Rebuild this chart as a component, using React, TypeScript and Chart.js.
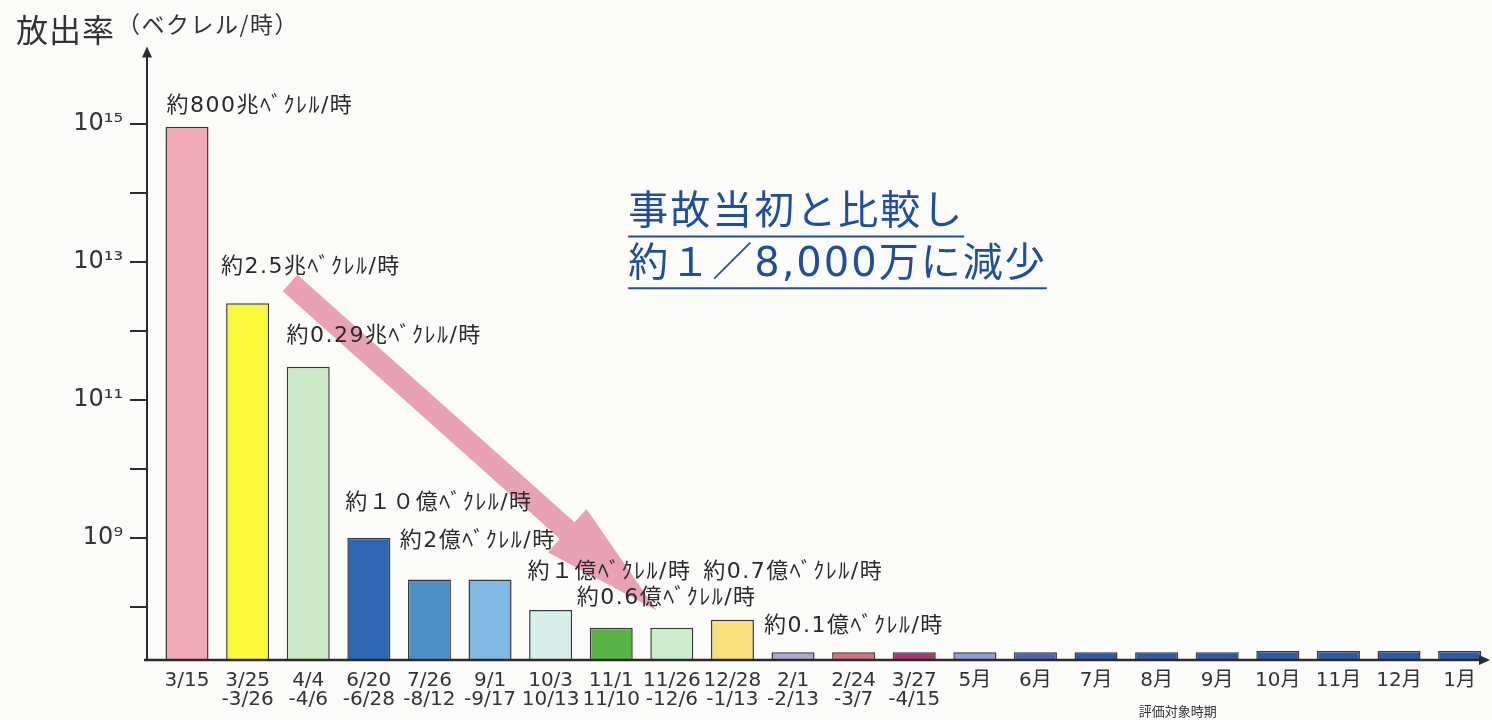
import { useEffect, useRef } from "react";
import { Chart, registerables } from "chart.js";

Chart.register(...registerables);

// ---- data ----
const periods: string[][] = [
  ["3/15"],
  ["3/25", "-3/26"],
  ["4/4", "-4/6"],
  ["6/20", "-6/28"],
  ["7/26", "-8/12"],
  ["9/1", "-9/17"],
  ["10/3", "10/13"],
  ["11/1", "11/10"],
  ["11/26", "-12/6"],
  ["12/28", "-1/13"],
  ["2/1", "-2/13"],
  ["2/24", "-3/7"],
  ["3/27", "-4/15"],
  ["5月"],
  ["6月"],
  ["7月"],
  ["8月"],
  ["9月"],
  ["10月"],
  ["11月"],
  ["12月"],
  ["1月"],
];

const releaseRates: number[] = [
  9e14, 2.5e12, 3e11, 1e9, 2.5e8, 2.5e8, 9e7, 5e7, 5e7, 6.5e7, 2.2e7, 2.2e7,
  2.2e7, 2.2e7, 2.2e7, 2.2e7, 2.2e7, 2.2e7, 2.3e7, 2.3e7, 2.3e7, 2.3e7,
];

const barColors: string[] = [
  "#f0aab5", "#f9f83a", "#cbe9c4", "#2e66b2", "#4c90ca", "#80b9e3", "#d8f0ec",
  "#5cb547", "#cbedc9", "#f5e07c", "#b2a8d2", "#d2717f", "#a5396e", "#8e9fd0",
  "#5064b0", "#2f5ba5", "#2f5ba5", "#2f5ba5", "#2f5ba5", "#2f5ba5", "#2f5ba5",
  "#2f5ba5",
];

const yTickValues: number[] = [1e8, 1e9, 1e10, 1e11, 1e12, 1e13, 1e14, 1e15];
const labeledExponents: number[] = [9, 11, 13, 15];
const yMin = 1.734e7;
const yMax = 1e16;
const xMin = -0.644;
const xMax = 21.501;

const valueLabelTexts: string[] = [
  "約800兆ﾍﾞｸﾚﾙ/時",
  "約2.5兆ﾍﾞｸﾚﾙ/時",
  "約0.29兆ﾍﾞｸﾚﾙ/時",
  "約１０億ﾍﾞｸﾚﾙ/時",
  "約2億ﾍﾞｸﾚﾙ/時",
  "約１億ﾍﾞｸﾚﾙ/時",
  "約0.6億ﾍﾞｸﾚﾙ/時",
  "約0.7億ﾍﾞｸﾚﾙ/時",
  "約0.1億ﾍﾞｸﾚﾙ/時",
];
// anchor of each label: category position (fractional) and level on the log axis
const valueLabelAt: number[] = [-0.34, 0.56, 1.64, 2.61, 3.51, 5.62, 6.43, 8.52, 9.52];
const valueLabelLevel: number[] = [1.8e15, 8.2e12, 8.3e11, 3.2e9, 8.9e8, 3.2e8, 1.35e8, 3.2e8, 5.2e7];

const trendFrom = { at: 1.7, level: 4.9e12 };
const trendTo = { at: 7.75, level: 8.9e7 };

const noteLines: string[] = ["事故当初と比較し", "約１／8,000万に減少"];
const noteAt = 7.28;
const noteLevels: number[] = [5e13, 8.9e12];

const yTitleMain = "放出率";
const yTitleUnit = "（ベクレル/時）";
const xTitle = "評価対象時期";
const xTitleAt = 16.35;

const SUP: Record<string, string> = {
  "0": "⁰", "1": "¹", "2": "²", "3": "³", "4": "⁴",
  "5": "⁵", "6": "⁶", "7": "⁷", "8": "⁸", "9": "⁹",
};

const CJK = "'Noto Sans CJK JP'";
const LAT = "'DejaVu Sans', 'Noto Sans CJK JP'";

const overlay = {
  id: "overlay",
  beforeDraw(chart: any) {
    const { ctx, width, height } = chart;
    ctx.save();
    ctx.fillStyle = "#fbfbf9";
    ctx.fillRect(0, 0, width, height);
    ctx.restore();
  },
  afterDatasetsDraw(chart: any) {
    const { ctx } = chart;
    const xs = chart.scales.x;
    const ys = chart.scales.y;
    const p0 = { x: xs.getPixelForValue(trendFrom.at), y: ys.getPixelForValue(trendFrom.level) };
    const p1 = { x: xs.getPixelForValue(trendTo.at), y: ys.getPixelForValue(trendTo.level) };
    const dx = p1.x - p0.x;
    const dy = p1.y - p0.y;
    const len = Math.hypot(dx, dy);
    const ux = dx / len, uy = dy / len;
    const nx = -uy, ny = ux;
    const headLen = 120, headHalf = 29, shaftHalf = 11;
    const bx = p1.x - ux * headLen, by = p1.y - uy * headLen;
    ctx.save();
    ctx.fillStyle = "#e9a1b6";
    ctx.beginPath();
    ctx.moveTo(p0.x + nx * shaftHalf, p0.y + ny * shaftHalf);
    ctx.lineTo(bx + nx * shaftHalf, by + ny * shaftHalf);
    ctx.lineTo(bx + nx * headHalf, by + ny * headHalf);
    ctx.lineTo(p1.x, p1.y);
    ctx.lineTo(bx - nx * headHalf, by - ny * headHalf);
    ctx.lineTo(bx - nx * shaftHalf, by - ny * shaftHalf);
    ctx.lineTo(p0.x - nx * shaftHalf, p0.y - ny * shaftHalf);
    ctx.closePath();
    ctx.fill();
    ctx.restore();
  },
  afterDraw(chart: any) {
    const { ctx, chartArea } = chart;
    const xs = chart.scales.x;
    const ys = chart.scales.y;
    const axisColor = "#2b2b2b";
    ctx.save();

    // y axis with arrow
    const ax = chartArea.left - 1;
    ctx.strokeStyle = axisColor;
    ctx.fillStyle = axisColor;
    ctx.lineWidth = 2;
    ctx.beginPath();
    ctx.moveTo(ax, chartArea.bottom + 1);
    ctx.lineTo(ax, chartArea.top + 2);
    ctx.stroke();
    ctx.beginPath();
    ctx.moveTo(ax, chartArea.top - 8);
    ctx.lineTo(ax - 5, chartArea.top + 3);
    ctx.lineTo(ax + 5, chartArea.top + 3);
    ctx.closePath();
    ctx.fill();

    // x axis with arrow
    const ay = chartArea.bottom + 0.5;
    ctx.lineWidth = 2.5;
    ctx.beginPath();
    ctx.moveTo(ax - 3, ay);
    ctx.lineTo(chartArea.right - 8, ay);
    ctx.stroke();
    ctx.beginPath();
    ctx.moveTo(chartArea.right, ay);
    ctx.lineTo(chartArea.right - 11, ay - 5);
    ctx.lineTo(chartArea.right - 11, ay + 5);
    ctx.closePath();
    ctx.fill();

    // value labels
    ctx.fillStyle = "#2a2a2a";
    ctx.font = `22px ${LAT}`;
    ctx.textBaseline = "middle";
    ctx.textAlign = "left";
    (ctx as any).letterSpacing = "1.5px";
    valueLabelTexts.forEach((t, i) => {
      ctx.fillText(t, xs.getPixelForValue(valueLabelAt[i]), ys.getPixelForValue(valueLabelLevel[i]));
    });

    // note
    ctx.fillStyle = "#1f4f9c";
    ctx.strokeStyle = "#1f4f9c";
    ctx.font = `40px ${LAT}`;
    (ctx as any).letterSpacing = "2px";
    noteLines.forEach((t, i) => {
      const x = xs.getPixelForValue(noteAt);
      const y = ys.getPixelForValue(noteLevels[i]);
      ctx.fillText(t, x, y);
      const w = ctx.measureText(t).width;
      ctx.lineWidth = 2;
      ctx.beginPath();
      ctx.moveTo(x, y + 23);
      ctx.lineTo(x + w, y + 23);
      ctx.stroke();
    });

    // titles
    ctx.fillStyle = "#333333";
    (ctx as any).letterSpacing = "1px";
    ctx.font = `32px ${CJK}`;
    ctx.fillText(yTitleMain, 16, 30);
    (ctx as any).letterSpacing = "1.5px";
    ctx.font = `23px ${CJK}`;
    ctx.fillText(yTitleUnit, 117, 24);
    (ctx as any).letterSpacing = "0px";
    ctx.font = `13px ${CJK}`;
    ctx.textAlign = "center";
    ctx.fillText(xTitle, xs.getPixelForValue(xTitleAt), chartArea.bottom + 52);
    ctx.restore();
  },
};

export default function App() {
  const ref = useRef<HTMLCanvasElement>(null);
  useEffect(() => {
    const points = releaseRates.map((v, i) => ({ x: i, y: v }));
    const chart = new Chart(ref.current as HTMLCanvasElement, {
      type: "bar",
      data: {
        datasets: [
          {
            data: points,
            backgroundColor: barColors,
            borderColor: "#3a3a3a",
            borderWidth: 1.5,
            barPercentage: 0.71,
            categoryPercentage: 1,
          },
        ],
      },
      options: {
        responsive: false,
        animation: false,
        layout: { padding: { top: 54.5, right: 2, bottom: 0, left: 0 } },
        plugins: { legend: { display: false }, tooltip: { enabled: false } },
        scales: {
          x: {
            type: "linear",
            min: xMin,
            max: xMax,
            offset: false,
            afterFit: (s: any) => {
              s.height = 60.5;
            },
            afterBuildTicks: (s: any) => {
              s.ticks = periods.map((_, i) => ({ value: i }));
            },
            grid: { display: false },
            border: { display: false },
            ticks: {
              autoSkip: false,
              maxRotation: 0,
              minRotation: 0,
              padding: 4,
              color: "#333333",
              font: { family: LAT, size: 20, lineHeight: 0.93 },
              callback: (v: any) => periods[Math.round(Number(v))] ?? "",
            },
          },
          y: {
            type: "logarithmic",
            min: yMin,
            max: yMax,
            afterFit: (s: any) => {
              s.width = 148;
            },
            afterBuildTicks: (s: any) => {
              s.ticks = yTickValues.map((v) => ({ value: v }));
            },
            grid: {
              drawOnChartArea: false,
              drawTicks: true,
              tickLength: 18,
              color: "#2b2b2b",
              lineWidth: 2,
            },
            border: { display: false },
            ticks: {
              autoSkip: false,
              padding: 7,
              color: "#333333",
              font: { family: LAT, size: 24 },
              callback: (v: any) => {
                const e = Math.round(Math.log10(Number(v)));
                if (!labeledExponents.includes(e)) return "";
                return "10" + String(e).split("").map((c) => SUP[c]).join("");
              },
            },
          },
        },
      },
      plugins: [overlay],
    });
    return () => chart.destroy();
  }, []);
  return (
    <div style={{ position: "absolute", left: 0, top: 0, width: 1492, height: 720, background: "#fbfbf9" }}>
      <canvas ref={ref} width={1492} height={720} style={{ display: "block" }} />
    </div>
  );
}
